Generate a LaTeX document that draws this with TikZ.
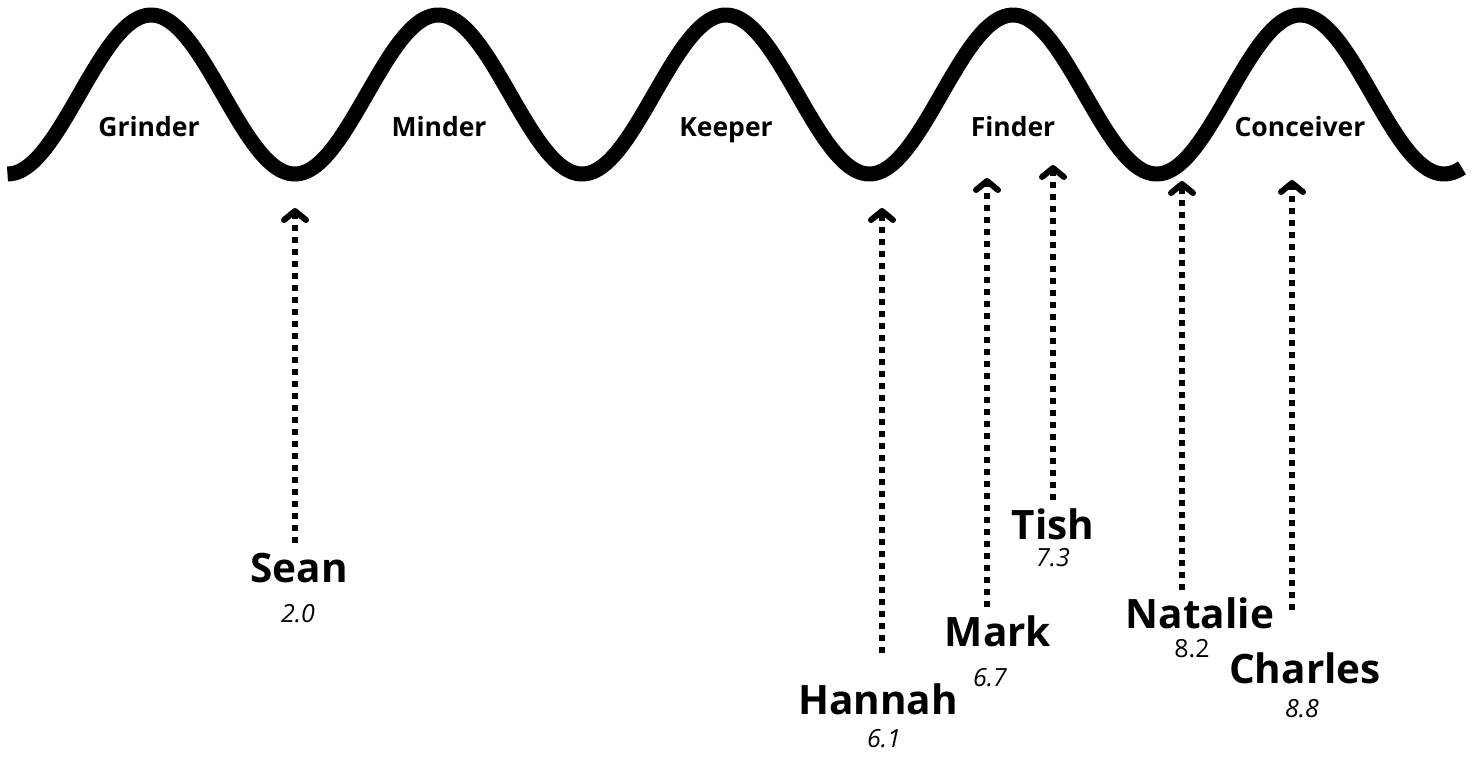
\documentclass[tikz,border=0pt]{standalone}
\usepackage{fontspec}
\setmainfont{Open Sans}
\usetikzlibrary{arrows.meta}

\begin{document}
\begin{tikzpicture}[x=1pt,y=-1pt,
    stage/.style={font=\bfseries\fontsize{26.5}{26.5}\selectfont,anchor=base},
    person/.style={font=\bfseries\fontsize{40.5}{40.5}\selectfont,anchor=base},
    score/.style={font=\itshape\fontsize{25}{25}\selectfont,anchor=base},
    pointer/.style={line width=6pt,dash pattern=on 6pt off 6pt,
      -{Straight Barb[length=9pt,width=22pt,round]}}]
  \useasboundingbox (0,0) rectangle (1472,758);
  % the wave
  \draw[line width=15pt] plot[domain=7.5:1462,samples=300,smooth]
    (\x,{94.5+79.5*cos((\x-7.5)/287.3*360)});
  \node[stage] (grinder) at (149,136) {Grinder};
  \node[stage] (minder) at (439,136) {Minder};
  \node[stage] (keeper) at (726,136) {Keeper};
  \node[stage] (finder) at (1013,136) {Finder};
  \node[stage] (conceiver) at (1300,136) {Conceiver};
  % people
  \node[person] (sean) at (299,582) {Sean};
  \node[score] (seanval) at (298,622) {2.0};
  \node[person] (hannah) at (878,714) {Hannah};
  \node[score] (hannahval) at (884,747) {6.1};
  \node[person] (mark) at (998,646) {Mark};
  \node[score] (markval) at (990,686) {6.7};
  \node[person] (tish) at (1053,539) {Tish};
  \node[score] (tishval) at (1053,566) {7.3};
  \node[person] (natalie) at (1200,628) {Natalie};
  \node[score,font=\fontsize{25}{25}\selectfont] (natalieval) at (1192,657) {8.2};
  \node[person] (charles) at (1305,683) {Charles};
  \node[score] (charlesval) at (1302,717) {8.8};
  % pointers
  \coordinate (seanfoot) at (295,543);
  \coordinate (seantip) at (295,208);
  \coordinate (hannahfoot) at (882,653);
  \coordinate (hannahtip) at (882,208);
  \coordinate (markfoot) at (987,607);
  \coordinate (marktip) at (987,178);
  \coordinate (tishfoot) at (1053,500);
  \coordinate (tishtip) at (1053,165);
  \coordinate (nataliefoot) at (1182,590);
  \coordinate (natalietip) at (1182,181);
  \coordinate (charlesfoot) at (1292,610);
  \coordinate (charlestip) at (1292,180);
  \draw[pointer] (seanfoot) -- (seantip);
  \draw[pointer] (hannahfoot) -- (hannahtip);
  \draw[pointer] (markfoot) -- (marktip);
  \draw[pointer] (tishfoot) -- (tishtip);
  \draw[pointer] (nataliefoot) -- (natalietip);
  \draw[pointer] (charlesfoot) -- (charlestip);
\end{tikzpicture}
\end{document}
